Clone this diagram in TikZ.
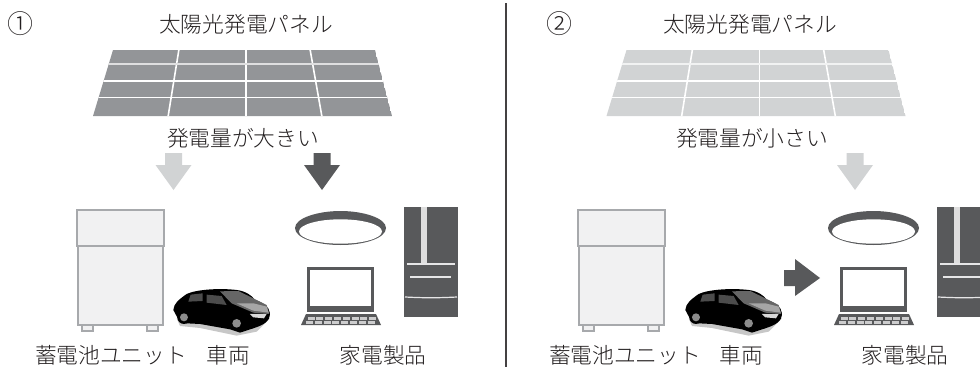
\documentclass[tikz,border=0pt]{standalone}
\usepackage{fontspec}
\setmainfont{Noto Sans CJK JP}[UprightFont={* Light}]
\definecolor{ink}{HTML}{231F20}
\definecolor{darkpv}{HTML}{939598}
\definecolor{lightpv}{HTML}{D1D3D4}
\definecolor{darkgr}{HTML}{58595B}
\definecolor{batfill}{HTML}{F1F1F2}
\definecolor{batline}{HTML}{A7A9AC}
\tikzset{
  lbl/.style={font=\fontsize{21.7}{23}\selectfont,text=ink,inner sep=0pt},
  numlbl/.style={font=\fontsize{26}{28}\selectfont,text=ink,inner sep=0pt},
  pvgap/.style={draw=white,line width=1.6pt},
  batbody/.style={fill=batfill,draw=batline,line width=1.4pt}
}
\newcommand{\pvpanel}[2]{%
 \begin{scope}[shift={(#1,0)}]
  \clip (113,50) -- (375,50) -- (392,116) -- (93,116) -- cycle;
  \fill[#2] (113,50) -- (375,50) -- (392,116) -- (93,116) -- cycle;
  \draw[pvgap] (179,49) -- (168,117);
  \draw[pvgap] (246,49) -- (246,117);
  \draw[pvgap] (310,49) -- (322,117);
  \draw[pvgap,draw=white!70!#2,line width=2pt] (90,63.5) -- (395,63.5);
  \draw[pvgap,line width=1.4pt] (90,81) -- (395,81);
  \draw[pvgap,line width=1.4pt] (90,97.5) -- (395,97.5);
 \end{scope}}
\newcommand{\downarrowshape}[3]{%
  \fill[#3] (#1-8.5,#2) -- (#1+8.5,#2) -- (#1+8.5,#2+12) -- (#1+18,#2+12) -- (#1,#2+37) -- (#1-18,#2+12) -- (#1-8.5,#2+12) -- cycle;}
\newcommand{\batteryunit}[1]{%
 \begin{scope}[shift={(#1,0)}]
  \draw[fill=batfill,draw=batline,line width=1.2pt] (82,325) rectangle (93,331);
  \draw[fill=batfill,draw=batline,line width=1.2pt] (147,325) rectangle (158,331);
  \draw[batbody] (78,246) rectangle (163,325);
  \draw[batbody] (77,210) rectangle (164,246);
 \end{scope}}
\newcommand{\carshape}[1]{%
 \begin{scope}[shift={(#1,190)},x=0.3333pt,y=-0.3333pt]
  \fill[black!22] (410,385) -- (690,385) -- (650,425) -- (590,437) -- (480,414) -- (420,408) -- cycle;
  \fill[black] (400,360) .. controls (402,340) and (415,330) .. (440,312)
     .. controls (470,298) and (540,294) .. (590,300)
     .. controls (615,303) and (635,315) .. (645,330)
     .. controls (670,338) and (688,350) .. (690,370)
     .. controls (690,395) and (670,405) .. (640,415)
     -- (600,428) -- (570,418) -- (480,402) -- (440,400) -- (415,388) -- cycle;
  \fill[black!60] (540,304) -- (595,303) -- (640,325) -- (680,345) -- (688,372) -- (640,368) -- (575,340) -- cycle;
  \fill[black!35] (590,340) -- (640,340) -- (680,350) -- (686,368) -- (640,362) -- cycle;
  \fill[black!70] (452,314) -- (488,310) -- (488,333) -- (445,335) -- cycle;
  \fill[black!70] (500,314) -- (545,318) -- (560,345) -- (500,338) -- cycle;
  \fill[black!15] (630,372) -- (680,372) -- (672,385) -- (640,382) -- cycle;
  \fill[black] (432,382) circle (20);
  \fill[black!45] (432,382) circle (12);
  \fill[black] (590,400) circle (21);
  \fill[black!45] (590,400) circle (13);
 \end{scope}}
\newcommand{\appliances}[1]{%
 \begin{scope}[shift={(#1,0)}]
  \fill[darkgr] (295,228) .. controls (295,218) and (318,211) .. (340.5,211)
      .. controls (363,211) and (386,218) .. (386,228)
      .. controls (386,238) and (365,245) .. (340.5,245)
      .. controls (316,245) and (295,238) .. (295,228) -- cycle;
  \fill[white] (340.5,231.5) ellipse (41.5 and 12.2);
  \draw[darkgr,fill=white,line width=2.6pt] (308.3,268.3) rectangle (372.5,311);
  \fill[darkgr] (307,305.5) rectangle (373.8,312);
  \fill[darkgr] (306,314) -- (376,314) -- (381,325) -- (301,325) -- cycle;
  \foreach \yy/\ss in {317/307.5,321/306}
    \foreach \xx in {0,...,7}
      \fill[white!70!darkgr] (\ss+\xx*8.8,\yy) rectangle ++(7,2.6);
  \fill[darkgr] (404,207) rectangle (458,317);
  \fill[white!80!darkgr] (421,207) rectangle (427,264);
  \draw[white!85!darkgr,line width=1.2pt] (407,264) -- (455,264);
  \draw[white!85!darkgr,line width=1.2pt] (410,277) -- (451,277);
  \draw[white!85!darkgr,line width=1.2pt] (405,297) .. controls (425,298) and (437,298) .. (457,297);
 \end{scope}}
\begin{document}
\begin{tikzpicture}[x=1pt,y=-1pt]
\useasboundingbox (0,0) rectangle (980,367);
\coordinate (divtop) at (506,3);
\coordinate (divbot) at (506,367);
\draw[ink!85,line width=1.2pt] (divtop) -- (divbot);
\node[numlbl] (n1) at (21,24) {①};
\node[lbl] (pv1) at (246,24) {太陽光発電パネル};
\node[lbl] (amt1) at (243,138) {発電量が大きい};
\node[lbl] (bat1) at (111,355) {蓄電池ユニット};
\node[lbl] (car1) at (228,355) {車両};
\node[lbl] (app1) at (383,355) {家電製品};
\node[numlbl] (n2) at (559.5,24) {②};
\node[lbl] (pv2) at (750,24) {太陽光発電パネル};
\node[lbl] (amt2) at (752,138) {発電量が小さい};
\node[lbl] (bat2) at (625,355) {蓄電池ユニット};
\node[lbl] (car2) at (741,355) {車両};
\node[lbl] (app2) at (905,355) {家電製品};
\begin{scope}\pvpanel{0}{darkpv}\end{scope}
\begin{scope}\pvpanel{513.5}{lightpv}\end{scope}
\downarrowshape{173.5}{153}{lightpv}
\downarrowshape{322}{153}{darkgr}
\downarrowshape{855}{153}{lightpv}
\fill[darkgr] (784,270) -- (795,270) -- (795,259) -- (820,278) -- (795,296) -- (795,286) -- (784,286) -- cycle;
\batteryunit{0}
\batteryunit{501}
\carshape{40}
\carshape{552}
\appliances{0}
\begin{scope}
\clip (800,190) rectangle (980,367);
\appliances{533}
\end{scope}
\end{tikzpicture}
\end{document}
